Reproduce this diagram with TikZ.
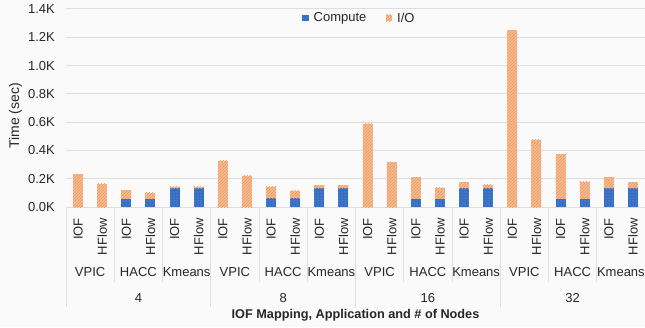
\documentclass[tikz,border=0pt]{standalone}
\usepackage{fontspec}
\setmainfont{Liberation Sans}
\usepackage{xcolor}
\usepackage{tikz}
\usetikzlibrary{positioning, patterns}

\definecolor{computeblue}{RGB}{52,110,196}
\definecolor{computedot}{RGB}{150,180,230}
\definecolor{iofill}{RGB}{247,188,146}
\definecolor{iohatch}{RGB}{237,152,92}
\definecolor{gridgray}{RGB}{222,222,222}
\definecolor{txtgray}{RGB}{38,38,38}
\definecolor{bggray}{RGB}{250,250,250}

\begin{document}
\begin{tikzpicture}[
    x=1pt, y=1pt,
    font=\fontsize{13}{15}\selectfont,
    text=txtgray,
    grid/.style={draw=gridgray, line width=1pt},
    sepline/.style={draw=gridgray, line width=0.8pt},
    compute/.style={fill=computeblue, postaction={pattern=dots, pattern color=computedot}},
    io/.style={fill=iofill, postaction={pattern=north east lines, pattern color=iohatch}},
    tick/.style={anchor=east, inner sep=1pt},
    barlabel/.style={rotate=90, anchor=east, inner sep=1pt},
    applabel/.style={inner sep=1pt},
    keybox/.style={minimum size=6.5pt, inner sep=0pt},
]
    % Canvas
    \fill[bggray] (0,0) rectangle (645,327);
    \useasboundingbox (0,0) rectangle (645,327);

    % Gridlines and tick labels
    \draw[grid] (66,120) -- (645,120);
    \draw[grid] (66,148.29) -- (645,148.29);
    \draw[grid] (66,176.57) -- (645,176.57);
    \draw[grid] (66,204.86) -- (645,204.86);
    \draw[grid] (66,233.14) -- (645,233.14);
    \draw[grid] (66,261.43) -- (645,261.43);
    \draw[grid] (66,289.71) -- (645,289.71);
    \draw[grid] (66,318) -- (645,318);
    \node[tick] (t0) at (56,120) {0.0K};
    \node[tick] (t1) at (56,148.29) {0.2K};
    \node[tick] (t2) at (56,176.57) {0.4K};
    \node[tick] (t3) at (56,204.86) {0.6K};
    \node[tick] (t4) at (56,233.14) {0.8K};
    \node[tick] (t5) at (56,261.43) {1.0K};
    \node[tick] (t6) at (56,289.71) {1.2K};
    \node[tick] (t7) at (56,318) {1.4K};

    % Category separators (application)
    \draw[sepline] (114.25,120) -- (114.25,45);
    \draw[sepline] (162.5,120) -- (162.5,45);
    \draw[sepline] (259,120) -- (259,45);
    \draw[sepline] (307.25,120) -- (307.25,45);
    \draw[sepline] (403.75,120) -- (403.75,45);
    \draw[sepline] (452,120) -- (452,45);
    \draw[sepline] (548.5,120) -- (548.5,45);
    \draw[sepline] (596.75,120) -- (596.75,45);

    % Category separators (# of nodes)
    \draw[sepline] (66,120) -- (66,20);
    \draw[sepline] (210.75,120) -- (210.75,20);
    \draw[sepline] (355.5,120) -- (355.5,20);
    \draw[sepline] (500.25,120) -- (500.25,20);

    % Bars (values in K seconds)
    \begin{scope}[shift={(0,120)}, y=141.43pt]
        % 4 nodes
        \fill[io] (73.06,0) rectangle (83.06,0.233);
        \fill[io] (97.19,0) rectangle (107.19,0.163);
        \fill[compute] (121.31,0) rectangle (131.31,0.059);
        \fill[io] (121.31,0.059) rectangle (131.31,0.12);
        \fill[compute] (145.44,0) rectangle (155.44,0.059);
        \fill[io] (145.44,0.059) rectangle (155.44,0.10);
        \fill[compute] (169.56,0) rectangle (179.56,0.132);
        \fill[io] (169.56,0.132) rectangle (179.56,0.144);
        \fill[compute] (193.69,0) rectangle (203.69,0.132);
        \fill[io] (193.69,0.132) rectangle (203.69,0.144);

        % 8 nodes
        \fill[io] (217.81,0) rectangle (227.81,0.327);
        \fill[io] (241.94,0) rectangle (251.94,0.22);
        \fill[compute] (266.06,0) rectangle (276.06,0.062);
        \fill[io] (266.06,0.062) rectangle (276.06,0.144);
        \fill[compute] (290.19,0) rectangle (300.19,0.062);
        \fill[io] (290.19,0.062) rectangle (300.19,0.115);
        \fill[compute] (314.31,0) rectangle (324.31,0.133);
        \fill[io] (314.31,0.133) rectangle (324.31,0.155);
        \fill[compute] (338.44,0) rectangle (348.44,0.133);
        \fill[io] (338.44,0.133) rectangle (348.44,0.153);

        % 16 nodes
        \fill[io] (362.56,0) rectangle (372.56,0.588);
        \fill[io] (386.69,0) rectangle (396.69,0.316);
        \fill[compute] (410.81,0) rectangle (420.81,0.06);
        \fill[io] (410.81,0.06) rectangle (420.81,0.212);
        \fill[compute] (434.94,0) rectangle (444.94,0.06);
        \fill[io] (434.94,0.06) rectangle (444.94,0.135);
        \fill[compute] (459.06,0) rectangle (469.06,0.133);
        \fill[io] (459.06,0.133) rectangle (469.06,0.174);
        \fill[compute] (483.19,0) rectangle (493.19,0.133);
        \fill[io] (483.19,0.133) rectangle (493.19,0.157);

        % 32 nodes
        \fill[io] (507.31,0) rectangle (517.31,1.25);
        \fill[io] (531.44,0) rectangle (541.44,0.475);
        \fill[compute] (555.56,0) rectangle (565.56,0.059);
        \fill[io] (555.56,0.059) rectangle (565.56,0.373);
        \fill[compute] (579.69,0) rectangle (589.69,0.059);
        \fill[io] (579.69,0.059) rectangle (589.69,0.178);
        \fill[compute] (603.81,0) rectangle (613.81,0.133);
        \fill[io] (603.81,0.133) rectangle (613.81,0.212);
        \fill[compute] (627.94,0) rectangle (637.94,0.133);
        \fill[io] (627.94,0.133) rectangle (637.94,0.174);
    \end{scope}

    % Mapping labels
    \node[barlabel] (b1) at (78.06,110) {IOF};
    \node[barlabel] (b2) at (102.19,110) {HFlow};
    \node[barlabel] (b3) at (126.31,110) {IOF};
    \node[barlabel] (b4) at (150.44,110) {HFlow};
    \node[barlabel] (b5) at (174.56,110) {IOF};
    \node[barlabel] (b6) at (198.69,110) {HFlow};
    \node[barlabel] (b7) at (222.81,110) {IOF};
    \node[barlabel] (b8) at (246.94,110) {HFlow};
    \node[barlabel] (b9) at (271.06,110) {IOF};
    \node[barlabel] (b10) at (295.19,110) {HFlow};
    \node[barlabel] (b11) at (319.31,110) {IOF};
    \node[barlabel] (b12) at (343.44,110) {HFlow};
    \node[barlabel] (b13) at (367.56,110) {IOF};
    \node[barlabel] (b14) at (391.69,110) {HFlow};
    \node[barlabel] (b15) at (415.81,110) {IOF};
    \node[barlabel] (b16) at (439.94,110) {HFlow};
    \node[barlabel] (b17) at (464.06,110) {IOF};
    \node[barlabel] (b18) at (488.19,110) {HFlow};
    \node[barlabel] (b19) at (512.31,110) {IOF};
    \node[barlabel] (b20) at (536.44,110) {HFlow};
    \node[barlabel] (b21) at (560.56,110) {IOF};
    \node[barlabel] (b22) at (584.69,110) {HFlow};
    \node[barlabel] (b23) at (608.81,110) {IOF};
    \node[barlabel] (b24) at (632.94,110) {HFlow};

    % Application labels
    \node[applabel] (a1) at (90.13,54.5) {VPIC};
    \node[applabel] (a2) at (138.38,54.5) {HACC};
    \node[applabel] (a3) at (186.63,54.5) {Kmeans};
    \node[applabel] (a4) at (234.88,54.5) {VPIC};
    \node[applabel] (a5) at (283.13,54.5) {HACC};
    \node[applabel] (a6) at (331.38,54.5) {Kmeans};
    \node[applabel] (a7) at (379.63,54.5) {VPIC};
    \node[applabel] (a8) at (427.88,54.5) {HACC};
    \node[applabel] (a9) at (476.13,54.5) {Kmeans};
    \node[applabel] (a10) at (524.38,54.5) {VPIC};
    \node[applabel] (a11) at (572.63,54.5) {HACC};
    \node[applabel] (a12) at (620.88,54.5) {Kmeans};

    % Node-count labels
    \node[applabel] (n4) at (138.38,29) {4};
    \node[applabel] (n8) at (283.13,29) {8};
    \node[applabel] (n16) at (427.88,29) {16};
    \node[applabel] (n32) at (572.63,29) {32};

    % Axis titles
    \node[font=\fontsize{12.7}{15}\selectfont\bfseries] (xtitle) at (355.5,12) {IOF Mapping, Application and \# of Nodes};
    \node[rotate=90, font=\fontsize{14}{16}\selectfont] (ytitle) at (15.5,211) {Time (sec)};

    % Legend
    \node[keybox, compute] (kcomp) at (305.5,309) {};
    \node[applabel, right=3.5pt of kcomp] (lcomp) {Compute};
    \node[keybox, io, right=18pt of lcomp] (kio) {};
    \node[applabel, right=3.5pt of kio] (lio) {I/O};
\end{tikzpicture}
\end{document}
